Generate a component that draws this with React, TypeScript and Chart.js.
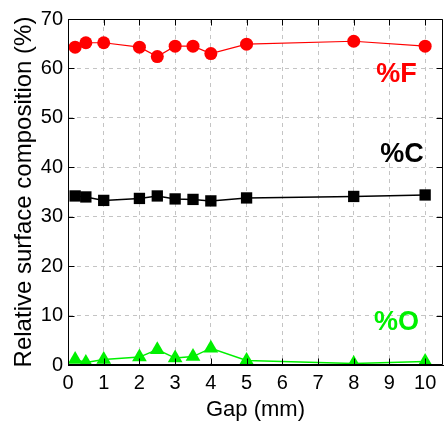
import React, { useEffect, useRef } from "react";
import { Chart, registerables } from "chart.js";

Chart.register(...registerables);

// ---- data ----
const gaps = [0.2, 0.5, 1, 2, 2.5, 3, 3.5, 4, 5, 8, 10];
const fluorine = [64.3, 65.2, 65.2, 64.3, 62.4, 64.5, 64.5, 63.0, 64.9, 65.5, 64.5];
const carbon = [34.2, 34.0, 33.3, 33.7, 34.2, 33.6, 33.5, 33.2, 33.8, 34.1, 34.4];
const oxygen = [1.1, 0.5, 1.1, 1.6, 3.1, 1.4, 1.7, 3.4, 0.9, 0.3, 0.7];
const xTicks = [0, 1, 2, 3, 4, 5, 6, 7, 8, 9, 10];
const yTicks = [0, 10, 20, 30, 40, 50, 60, 70];
const seriesNames = ["%F", "%C", "%O"];
const seriesColors = ["#ff0000", "#000000", "#00f000"];
// annotation anchors in data coordinates [x, y]
const labelAnchors = [
  [9.2, 58.7],
  [9.35, 42.5],
  [9.2, 8.5],
];

const FONT = "'Liberation Sans', Arial, Helvetica, sans-serif";

const framePlugin = {
  id: "frame",
  afterDraw(chart: any) {
    const { ctx, chartArea: a, scales } = chart;
    ctx.save();
    ctx.strokeStyle = "#000";
    ctx.lineWidth = 1;
    const L = Math.round(a.left) + 0.5;
    const R = Math.round(a.right) - 0.5;
    const T = Math.round(a.top) + 0.5;
    const B = Math.round(a.bottom) - 0.5;
    ctx.beginPath();
    ctx.rect(L, T, R - L, B - T);
    ctx.stroke();
    const tl = 6;
    ctx.beginPath();
    xTicks.forEach((v) => {
      const x = Math.round(scales.x.getPixelForValue(v)) + 0.5;
      ctx.moveTo(x, B);
      ctx.lineTo(x, B - tl);
      ctx.moveTo(x, T);
      ctx.lineTo(x, T + tl);
    });
    yTicks.forEach((v) => {
      const y = Math.round(scales.y.getPixelForValue(v)) + 0.5;
      ctx.moveTo(L, y);
      ctx.lineTo(L + tl, y);
      ctx.moveTo(R, y);
      ctx.lineTo(R - tl, y);
    });
    ctx.stroke();
    ctx.restore();
  },
};

const labelPlugin = {
  id: "seriesLabels",
  afterDatasetsDraw(chart: any) {
    const { ctx, scales } = chart;
    ctx.save();
    ctx.font = `bold 27px ${FONT}`;
    ctx.textAlign = "center";
    ctx.textBaseline = "middle";
    seriesNames.forEach((name, i) => {
      const [vx, vy] = labelAnchors[i];
      ctx.fillStyle = seriesColors[i];
      ctx.fillText(name, scales.x.getPixelForValue(vx), scales.y.getPixelForValue(vy));
    });
    ctx.restore();
  },
};

export default function App() {
  const ref = useRef<HTMLCanvasElement | null>(null);

  useEffect(() => {
    if (!ref.current) return;
    const toPts = (ys: number[]) => gaps.map((x, i) => ({ x, y: ys[i] }));
    const chart = new Chart(ref.current, {
      type: "line",
      data: {
        datasets: [
          {
            label: seriesNames[0],
            data: toPts(fluorine),
            borderColor: seriesColors[0],
            backgroundColor: seriesColors[0],
            borderWidth: 1.2,
            pointStyle: "circle",
            pointRadius: 6.5,
            pointBorderWidth: 0,
          },
          {
            label: seriesNames[1],
            data: toPts(carbon),
            borderColor: seriesColors[1],
            backgroundColor: seriesColors[1],
            borderWidth: 1.5,
            pointStyle: "rect",
            pointRadius: 8,
            pointBorderWidth: 0,
          },
          {
            label: seriesNames[2],
            data: toPts(oxygen),
            borderColor: seriesColors[2],
            backgroundColor: seriesColors[2],
            borderWidth: 1.5,
            pointStyle: "triangle",
            pointRadius: 8.5,
            pointBorderWidth: 0,
          },
        ],
      },
      options: {
        responsive: false,
        animation: false,
        events: [],
        layout: { autoPadding: false, padding: { top: 19, right: 2, left: 0, bottom: 0 } },
        plugins: { legend: { display: false }, tooltip: { enabled: false } },
        scales: {
          x: {
            type: "linear",
            min: 0,
            max: 10.5,
            afterFit: (s: any) => {
              s.height = 58;
              s.paddingLeft = 0;
              s.paddingRight = 0;
            },
            afterBuildTicks: (s: any) => {
              s.ticks = xTicks.map((v) => ({ value: v }));
            },
            ticks: { color: "#000", font: { family: FONT, size: 20 }, padding: 6, maxRotation: 0 },
            grid: { color: "#c4c4c4", drawTicks: false, lineWidth: 1 },
            border: { display: true, color: "#000", dash: [4, 4] },
            title: {
              display: true,
              text: "Gap (mm)",
              color: "#000",
              font: { family: FONT, size: 22 },
              padding: { top: 0, bottom: 0 },
            },
          },
          y: {
            type: "linear",
            min: 0,
            max: 70,
            afterFit: (s: any) => {
              s.width = 68;
              s.paddingTop = 0;
              s.paddingBottom = 0;
            },
            afterBuildTicks: (s: any) => {
              s.ticks = yTicks.map((v) => ({ value: v }));
            },
            ticks: { color: "#000", font: { family: FONT, size: 20 }, padding: 5 },
            grid: { color: "#c4c4c4", drawTicks: false, lineWidth: 1 },
            border: { display: true, color: "#000", dash: [4, 4] },
            title: {
              display: true,
              text: "Relative surface composition (%)",
              color: "#000",
              font: { family: FONT, size: 24 },
              padding: { top: 10, bottom: 0 },
            },
          },
        },
      },
      plugins: [framePlugin, labelPlugin],
    } as any);
    return () => chart.destroy();
  }, []);

  return (
    <div style={{ position: "absolute", left: 0, top: 0, width: 445, height: 423, background: "#fff" }}>
      <canvas ref={ref} width={445} height={423} style={{ display: "block" }} />
    </div>
  );
}
